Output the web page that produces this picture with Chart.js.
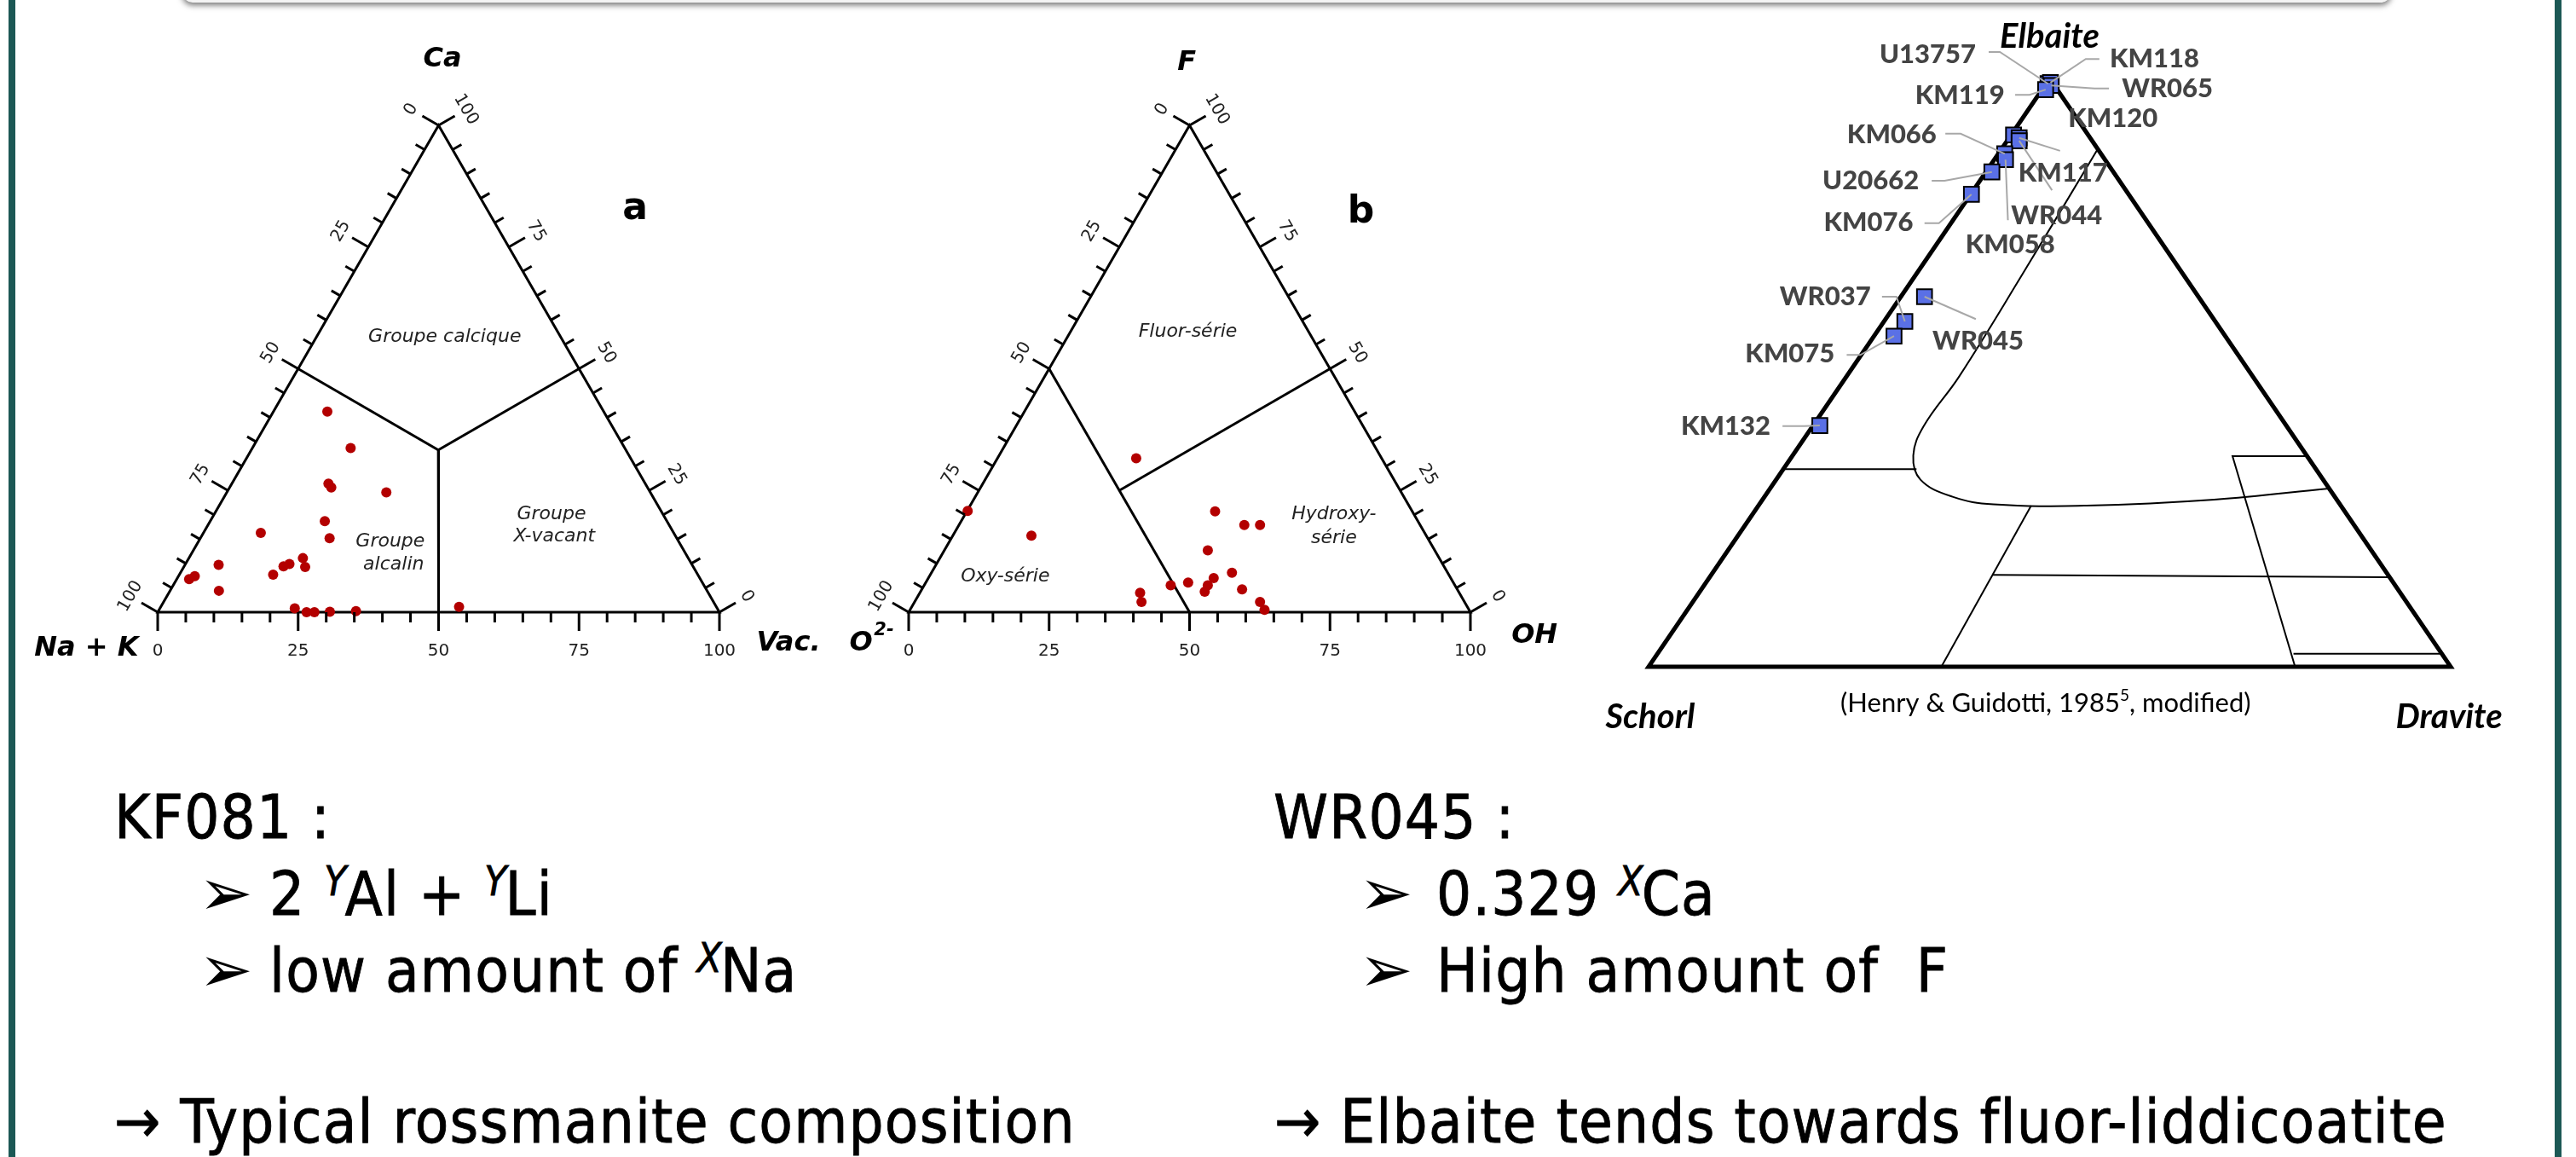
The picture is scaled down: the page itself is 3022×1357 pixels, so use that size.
<!DOCTYPE html>
<html>
<head>
<meta charset="utf-8">
<script src="https://cdn.jsdelivr.net/npm/chart.js@4.4.1/dist/chart.umd.min.js"></script>
<style>
  html, body { margin: 0; padding: 0; background: #fff; }
  #page { position: relative; width: 3022px; height: 1357px; overflow: hidden; background: #fff; }
  .bar { position: absolute; top: 0; bottom: 0; width: 8px; background: #1c5855; }
  #topbox { position: absolute; left: 214px; width: 2591px; top: -40px; height: 43px; background: #f4f4f4;
            border-radius: 0 0 12px 12px; box-shadow: 0 3px 7px rgba(0,0,0,.55); }
  canvas { position: absolute; }
  .txt { position: absolute; font-family: "Liberation Sans Narrow", "DejaVu Sans Condensed", sans-serif;
         font-size: 72px; line-height: 72px; color: #000; white-space: nowrap; letter-spacing: 1.2px;
         -webkit-text-stroke: 0.8px #000; }
  .bul { font-family: "DejaVu Sans"; font-size: 76px; line-height: 0; -webkit-text-stroke: 0; }
  sup { font-size: 0.66em; font-style: italic; vertical-align: 23px; line-height: 0; margin-right: -3px; }
</style>
</head>
<body>
<div id="page">
  <div class="bar" style="left:10px"></div>
  <div class="bar" style="left:2997px"></div>
  <div id="topbox"></div>

  <canvas id="chartA" width="960" height="800" style="left:30px;top:20px"></canvas>
  <canvas id="chartB" width="880" height="800" style="left:960px;top:20px"></canvas>
  <canvas id="chartC" width="1140" height="880" style="left:1850px;top:10px"></canvas>

  <div class="txt" style="left:134px;top:922px">KF081 :</div>
  <div class="txt" style="left:233px;top:1012px"><span class="bul">➢</span></div>
  <div class="txt" style="left:316px;top:1012px">2 <sup>Y</sup>Al + <sup>Y</sup>Li</div>
  <div class="txt" style="left:233px;top:1102px"><span class="bul">➢</span></div>
  <div class="txt" style="left:316px;top:1102px">low amount of <sup>X</sup>Na</div>
  <div class="txt" style="left:134px;top:1279px">→ Typical rossmanite composition</div>

  <div class="txt" style="left:1494px;top:922px">WR045 :</div>
  <div class="txt" style="left:1594px;top:1012px"><span class="bul">➢</span></div>
  <div class="txt" style="left:1685px;top:1012px">0.329 <sup>X</sup>Ca</div>
  <div class="txt" style="left:1594px;top:1102px"><span class="bul">➢</span></div>
  <div class="txt" style="left:1685px;top:1102px">High amount of&nbsp; F</div>
  <div class="txt" style="left:1495px;top:1279px">→ Elbaite tends towards fluor-liddicoatite</div>
</div>

<script>
const H3 = Math.sqrt(3) / 2;

// (a) X site, % : Ca (apex), vacancy (right); Na+K is the rest
const caA  = [41.2, 33.7, 26.4, 25.6, 24.6, 18.7, 15.2, 16.3, 9.7, 6.8, 7.4, 4.4, 7.7, 9.4, 9.9, 11.1, 9.3, 0.8, 0, 0, 0.1, 0.2, 1.1];
const vacA = [9.6, 17.5, 17.2, 18.1, 28.4, 20.4, 23.0, 10.2, 6.0, 2.2, 2.9, 8.7, 16.7, 17.7, 18.5, 20.3, 21.6, 24.0, 26.5, 27.9, 30.6, 35.2, 53.1];

// (b) W site, % : F (apex), OH (right); O2- is the rest
const fB  = [31.6, 20.8, 15.7, 20.7, 17.9, 17.9, 12.7, 8.1, 7.0, 6.1, 5.5, 5.5, 4.2, 4.7, 4.0, 2.1, 2.1, 0.5];
const ohB = [24.7, 0.1, 14.0, 44.2, 50.8, 53.6, 46.9, 53.5, 50.8, 46.7, 43.9, 50.5, 50.6, 57.0, 39.2, 40.4, 61.5, 63.1];

// (c) Elbaite (apex) - Schorl - Dravite (right), %
const samplesC = ['U13757', 'KM118', 'WR065', 'KM119', 'KM120', 'KM117', 'WR044', 'KM066', 'KM058', 'U20662', 'KM076', 'WR045', 'WR037', 'KM075', 'KM132'];
const elbC  = [99.1, 99.3, 98.8, 98.1, 90.4, 89.9, 89.4, 87.2, 86.2, 84.1, 80.3, 62.9, 58.7, 56.2, 41.0];
const dravC = [0.25, 0.45, 0.8, 0.45, 0.3, 1.25, 1.5, 0.8, 1.4, 0.75, 0.1, 2.95, 2.6, 2.5, 0.85];

const tickValues = [0, 25, 50, 75, 100];

// field boundaries, as [apex %, right %] pairs
const fieldsA = [[[50, 0], [33.3, 33.3], [50, 50]], [[33.3, 33.3], [0, 50]]];
const fieldsB = [[[50, 0], [0, 50]], [[50, 50], [25, 25]]];

// Henry & Guidotti fields in plot units of (c)
const curveC = [[56.0, 88.0], [46.6, 66.7], [38.7, 49.3], [34.3, 40.9], [33.0, 35.9], [33.9, 31.8],
                [37.9, 28.9], [43.0, 27.6], [54.6, 27.4], [70.5, 28.4], [84.8, 30.3]];
const linesC = [
  [[16.8, 33.6], [33.4, 33.6]],
  [[47.7, 27.4], [36.5, 0]],
  [[42.9, 15.6], [92.4, 15.2]],
  [[82.1, 35.8], [72.8, 35.8], [80.6, 0]],
  [[80.4, 2.2], [98.9, 2.2]]
];

// label placement for (c): anchor, alignment, leader path towards the square
const labelsC = {
  U13757: { at: [40.8, 104.1], align: 'right', leader: [[42.4, 104.5], [43.8, 104.5]] },
  KM118:  { at: [57.5, 103.3], align: 'left',  leader: [[56.2, 103.3], [54.5, 103.3]] },
  WR065:  { at: [59.0, 98.3],  align: 'left',  leader: [[57.4, 98.3], [55.6, 98.3]] },
  KM119:  { at: [44.4, 97.1],  align: 'right', leader: [[45.7, 97.2], [47.5, 97.2]] },
  KM120:  { at: [52.3, 93.2],  align: 'left',  leader: null },
  KM117:  { at: [46.1, 83.9],  align: 'left',  leader: [[51.3, 87.7]] },
  WR044:  { at: [45.2, 76.7],  align: 'left',  leader: [[50.3, 81.0]] },
  KM066:  { at: [35.9, 90.5],  align: 'right', leader: [[37.0, 90.6], [38.9, 90.6]] },
  KM058:  { at: [39.5, 71.7],  align: 'left',  leader: [[44.8, 75.9]] },
  U20662: { at: [33.7, 82.6],  align: 'right', leader: [[35.3, 82.6], [36.9, 82.6]] },
  KM076:  { at: [33.0, 75.5],  align: 'right', leader: [[34.4, 75.4], [36.2, 75.4]] },
  WR045:  { at: [35.4, 55.4],  align: 'left',  leader: [[40.8, 59.1]] },
  WR037:  { at: [27.7, 62.9],  align: 'right', leader: [[29.1, 62.9], [30.9, 62.9]] },
  KM075:  { at: [23.2, 53.2],  align: 'right', leader: [[24.7, 53.0], [26.4, 53.0]] },
  KM132:  { at: [15.2, 40.9],  align: 'right', leader: [[16.7, 40.9], [19.4, 40.9]] }
};

const TITLE = 'italic bold 32px "DejaVu Sans"';
const REGION = 'italic 22px "DejaVu Sans"';

const textsA = [
  { text: 'Ca', x: 50.7, y: 98.3, font: TITLE },
  { text: 'Na + K', x: -12.7, y: -6.4, font: TITLE },
  { text: 'Vac.', x: 112.3, y: -5.6, font: TITLE },
  { text: 'a', x: 85.0, y: 71.6, font: 'bold 44px "DejaVu Sans"' },
  { text: 'Groupe calcique', x: 51.1, y: 49.0, font: REGION, color: '#222' },
  { text: 'Groupe', x: 41.4, y: 12.6, font: REGION, color: '#222' },
  { text: 'alcalin', x: 42.0, y: 8.5, font: REGION, color: '#222' },
  { text: 'Groupe', x: 70.1, y: 17.4, font: REGION, color: '#222' },
  { text: 'X-vacant', x: 70.6, y: 13.4, font: REGION, color: '#222' }
];
const textsB = [
  { text: 'F', x: 49.5, y: 97.7, font: TITLE },
  { text: 'O', x: -8.5, y: -5.5, font: TITLE },
  { text: '2-', x: -4.4, y: -3.3, font: 'italic bold 21px "DejaVu Sans"' },
  { text: 'OH', x: 111.4, y: -4.2, font: TITLE },
  { text: 'b', x: 80.5, y: 71.0, font: 'bold 44px "DejaVu Sans"' },
  { text: 'Fluor-série', x: 49.7, y: 49.8, font: REGION, color: '#222' },
  { text: 'Hydroxy-', x: 75.7, y: 17.4, font: REGION, color: '#222' },
  { text: 'série', x: 75.7, y: 13.2, font: REGION, color: '#222' },
  { text: 'Oxy-série', x: 17.2, y: 6.4, font: REGION, color: '#222' }
];

// ternary -> plot units (apex %, right-vertex %)
function tern(top, right, h) {
  return { x: right + top / 2, y: top * h };
}

function px(chart, x, y) {
  return [chart.scales.x.getPixelForValue(x), chart.scales.y.getPixelForValue(y)];
}

function drawText(ctx, text, x, y, font, o) {
  o = o || {};
  ctx.save();
  ctx.translate(x, y);
  if (o.rot) ctx.rotate(o.rot);
  ctx.font = font;
  ctx.fillStyle = o.color || '#000';
  ctx.textAlign = o.align || 'center';
  ctx.textBaseline = 'middle';
  ctx.fillText(text, 0, 0);
  ctx.restore();
}

const edges = [
  { at: v => [v, 0], dir: [0, 1], rot: 0, gap: 46 },
  { at: v => [(100 - v) / 2, (100 - v) * H3], dir: [-H3, -0.5], rot: -Math.PI / 3, gap: 37 },
  { at: v => [100 - v / 2, v * H3], dir: [H3, -0.5], rot: Math.PI / 3, gap: 37 }
];

function frameDecor(id, texts) {
  return {
    id: id,
    afterDatasetsDraw(chart) {
      const ctx = chart.ctx;
      ctx.save();
      ctx.strokeStyle = '#000';
      ctx.lineWidth = 3;
      edges.forEach(e => {
        for (let v = 0; v <= 100; v += 5) {
          const [x, y] = px(chart, ...e.at(v));
          const len = v % 25 === 0 ? 22 : 12;
          ctx.beginPath();
          ctx.moveTo(x, y);
          ctx.lineTo(x + e.dir[0] * len, y + e.dir[1] * len);
          ctx.stroke();
        }
        tickValues.forEach(v => {
          const [x, y] = px(chart, ...e.at(v));
          drawText(ctx, String(v), x + e.dir[0] * e.gap, y + e.dir[1] * e.gap, '20px "DejaVu Sans"', { rot: e.rot, color: '#222' });
        });
      });
      texts.forEach(t => {
        const [x, y] = px(chart, t.x, t.y);
        drawText(ctx, t.text, x, y, t.font, t);
      });
      ctx.restore();
    }
  };
}

function lineSet(points, width) {
  return {
    data: points, showLine: true, pointRadius: 0, borderColor: '#000', borderWidth: width,
    borderJoinStyle: 'miter', clip: false, fill: false
  };
}

function baseOptions(pad, yMax) {
  return {
    responsive: false, animation: false, devicePixelRatio: 1, events: [],
    layout: { padding: pad },
    scales: {
      x: { type: 'linear', min: 0, max: 100, display: false },
      y: { type: 'linear', min: 0, max: yMax, display: false }
    },
    plugins: { legend: { display: false }, tooltip: { enabled: false } }
  };
}

function ternaryChart(id, pad, top, right, fields, texts) {
  const outline = [[0, 0], [0, 100], [100, 0], [0, 0], [0, 100]].map(p => tern(p[0], p[1], H3));
  const datasets = [{
    data: top.map((t, i) => tern(t, right[i], H3)),
    pointRadius: 6, backgroundColor: '#b30000', borderWidth: 0, clip: false
  }, lineSet(outline, 3)];
  fields.forEach(f => datasets.push(lineSet(f.map(p => tern(p[0], p[1], H3)), 3)));
  return new Chart(document.getElementById(id), {
    type: 'scatter',
    data: { datasets: datasets },
    options: baseOptions(pad, 100 * H3),
    plugins: [frameDecor(id + 'Decor', texts)]
  });
}

ternaryChart('chartA', { left: 155, right: 146, top: 127, bottom: 102 }, caA, vacA, fieldsA, textsA);
ternaryChart('chartB', { left: 106, right: 115, top: 127, bottom: 102 }, fB, ohB, fieldsB, textsB);

// (c)
const squaresC = elbC.map((e, i) => tern(e, dravC[i], 1));
const datasetsC = [{
  data: squaresC, pointStyle: 'rect', pointRadius: 12.5, backgroundColor: '#5a70e6',
  borderColor: '#000', borderWidth: 2, clip: false
}, lineSet([[0, 0], [0, 100], [100, 0], [0, 0], [0, 100]].map(p => tern(p[0], p[1], 1)), 5),
   Object.assign(lineSet(curveC.map(p => ({ x: p[0], y: p[1] })), 2), { tension: 0.4 })];
linesC.forEach(l => datasetsC.push(lineSet(l.map(p => ({ x: p[0], y: p[1] })), 2)));

new Chart(document.getElementById('chartC'), {
  type: 'scatter',
  data: { datasets: datasetsC },
  options: baseOptions({ left: 84, right: 115, top: 82, bottom: 108 }, 100),
  plugins: [{
    id: 'labelsC',
    afterDatasetsDraw(chart) {
      const ctx = chart.ctx;
      ctx.save();
      ctx.strokeStyle = '#a8a8a8';
      ctx.lineWidth = 2;
      samplesC.forEach((name, i) => {
        const l = labelsC[name];
        if (!l.leader) return;
        const pts = l.leader.concat([[squaresC[i].x, squaresC[i].y]]);
        ctx.beginPath();
        pts.forEach((p, k) => {
          const [x, y] = px(chart, p[0], p[1]);
          if (k === 0) ctx.moveTo(x, y); else ctx.lineTo(x, y);
        });
        ctx.stroke();
      });
      samplesC.forEach(name => {
        const l = labelsC[name];
        const [x, y] = px(chart, l.at[0], l.at[1]);
        drawText(ctx, name, x, y, '900 31px Lato', { align: l.align, color: '#444' });
      });
      const corner = 'italic bold 40px Lato';
      let [x, y] = px(chart, 50, 107.1);
      drawText(ctx, 'Elbaite', x, y, corner);
      [x, y] = px(chart, 0.2, -8.6);
      drawText(ctx, 'Schorl', x, y, corner);
      [x, y] = px(chart, 99.8, -8.6);
      drawText(ctx, 'Dravite', x, y, corner);
      // citation with a raised reference number
      [x, y] = px(chart, 49.5, -6.2);
      ctx.font = '31px Lato';
      const a = '(Henry & Guidotti, 1985', b = ', modified)';
      const wa = ctx.measureText(a).width, wb = ctx.measureText(b).width;
      ctx.font = '19px Lato';
      const ws = ctx.measureText('5').width;
      const x0 = x - (wa + ws + wb) / 2;
      drawText(ctx, a, x0, y, '31px Lato', { align: 'left' });
      drawText(ctx, '5', x0 + wa, y - 9, '19px Lato', { align: 'left' });
      drawText(ctx, b, x0 + wa + ws, y, '31px Lato', { align: 'left' });
      ctx.restore();
    }
  }]
});
</script>
</body>
</html>
